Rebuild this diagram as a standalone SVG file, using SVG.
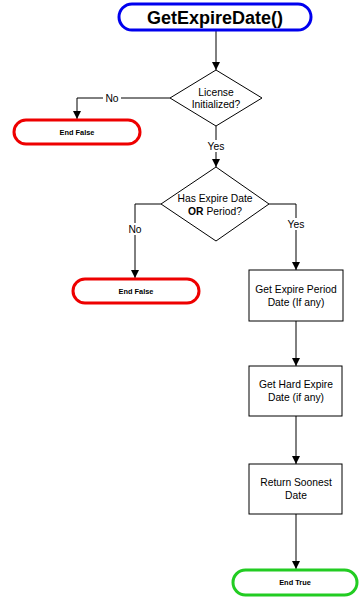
<svg xmlns="http://www.w3.org/2000/svg" width="359" height="599" viewBox="0 0 359 599">
<style>
text{font-family:"Liberation Sans",Arial,sans-serif;fill:#000;text-anchor:middle}
.t{font-size:10.3px}
.e{font-size:7.4px;font-weight:bold}
.term{fill:#fff;stroke-width:3}
.box{fill:#fff;stroke:#000;stroke-width:1}
.c{fill:none;stroke:#000;stroke-width:1;marker-end:url(#a)}
.l{font-size:10.3px}
</style>
<defs>
<marker id="a" viewBox="0 0 8 8" refX="8" refY="4" markerWidth="8" markerHeight="8" markerUnits="userSpaceOnUse" orient="auto">
<path d="M0,0 L8,4 L0,8 Z" fill="#000"/>
</marker>
</defs>
<rect width="359" height="599" fill="#fff"/>
<g id="connectors">
<path class="c" d="M216,31 V70"/>
<path class="c" d="M170,98 H77 V119"/>
<path class="c" d="M216,126 V167"/>
<path class="c" d="M161,204 H135 V278"/>
<path class="c" d="M269,204 H296 V270"/>
<path class="c" d="M296,321 V366"/>
<path class="c" d="M296,416 V464"/>
<path class="c" d="M296,514 V569"/>
<rect x="103" y="92" width="18" height="12" fill="#fff"/>
<text class="l" x="112" y="102">No</text>
<rect x="205" y="140" width="22" height="12" fill="#fff"/>
<text class="l" x="216" y="150">Yes</text>
<rect x="127" y="223" width="16" height="12" fill="#fff"/>
<text class="l" x="135" y="233">No</text>
<rect x="285" y="218" width="22" height="12" fill="#fff"/>
<text class="l" x="296" y="228">Yes</text>
</g>
<g id="start">
<rect class="term" x="119" y="4" width="192" height="26" rx="13" stroke="#0000ee"/>
<text x="215" y="23.5" style="font-size:18px;font-weight:bold">GetExpireDate()</text>
</g>
<g id="licenseInit">
<polygon points="216,70 262,98 216,126 170,98" fill="#fff" stroke="#000"/>
<text class="t" x="216" y="95.5">License</text>
<text class="t" x="216" y="108">Initialized?</text>
</g>
<g id="endFalse1">
<rect class="term" x="14" y="120" width="126" height="24" rx="12" stroke="#ee0000"/>
<text class="e" x="77" y="134.8">End False</text>
</g>
<g id="hasExpire">
<polygon points="216,167 269,204 216,241 161,204" fill="#fff" stroke="#000"/>
<text class="t" x="215" y="201.5">Has Expire Date</text>
<text class="t" x="215" y="214.5"><tspan style="font-weight:bold">OR</tspan> Period?</text>
</g>
<g id="endFalse2">
<rect class="term" x="73" y="279" width="126" height="24" rx="12" stroke="#ee0000"/>
<text class="e" x="136" y="293.8">End False</text>
</g>
<g id="getPeriod">
<rect class="box" x="249" y="270" width="94" height="51"/>
<text class="t" x="296" y="293">Get Expire Period</text>
<text class="t" x="296" y="306">Date (If any)</text>
</g>
<g id="getHard">
<rect class="box" x="249" y="366" width="93" height="50"/>
<text class="t" x="296" y="388">Get Hard Expire</text>
<text class="t" x="296" y="401">Date (if any)</text>
</g>
<g id="returnSoonest">
<rect class="box" x="249" y="464" width="93" height="50"/>
<text class="t" x="296" y="486">Return Soonest</text>
<text class="t" x="296" y="499">Date</text>
</g>
<g id="endTrue">
<rect class="term" x="233" y="570" width="124" height="25" rx="12.5" stroke="#22cc22"/>
<text class="e" x="295" y="585">End True</text>
</g>
</svg>
